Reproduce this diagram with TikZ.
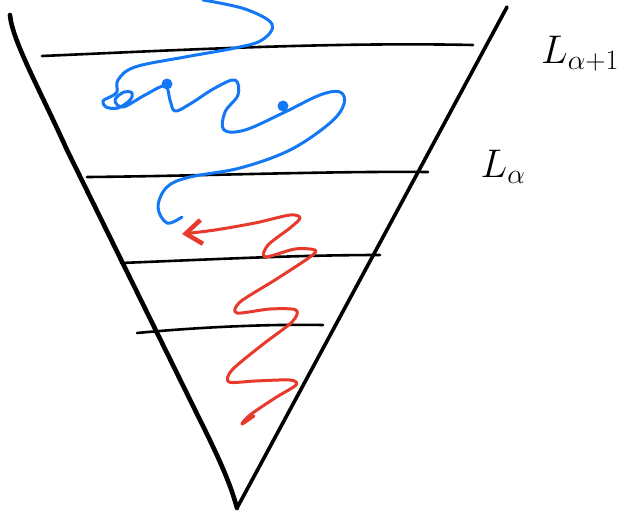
\RequirePackage{fix-cm}
\documentclass[tikz,border=0pt]{standalone}
\usepackage{amsmath}
\usepackage{xcolor}
\usepackage{tikz}
\usetikzlibrary{arrows.meta}
\definecolor{walkblue}{HTML}{1477F4}
\definecolor{walkred}{HTML}{E83A2C}
\tikzset{
  rim/.style    = {line width=#1, line cap=round, line join=round},
  level/.style  = {line width=2.6pt, line cap=round},
  walk/.style   = {draw=#1, line width=3pt, line cap=round, line join=round},
  spot/.style   = {circle, fill=walkblue, inner sep=0pt, minimum size=11pt},
  lab/.style    = {font=\fontsize{40}{44}\selectfont, inner sep=0pt},
}

\begin{document}
\begin{tikzpicture}[x=1pt, y=-1pt]
  \useasboundingbox (0,0) rectangle (632,515);
  % the cone
  \draw[rim=4.6pt] (10,15) .. controls (12,40) and (40,90) .. (67,150)
    -- (200,420) .. controls (225,470) and (232,490) .. (237,508);
  \draw[rim=3.6pt] (237,508) -- (507,7);
  % levels
  \draw[level] (42,56) .. controls (180,50) and (330,42) .. (473,45);
  \draw[level] (87,177) .. controls (200,176) and (330,171) .. (428,172);
  \draw[level] (121,263) .. controls (220,259) and (300,255) .. (380,255);
  \draw[level] (137,333) .. controls (200,327) and (270,324) .. (323,325);
  \node[lab] (lnext) at (580,54) {$L_{\alpha+1}$};
  \node[lab] (lcur) at (503,167) {$L_{\alpha}$};
  % blue walk
  \draw[walk=walkblue] plot[smooth, tension=0.6] coordinates {
    (203,0) (245,9) (272,24) (262,40) (235,48) (185,57) (135,67) (118,80)
    (117,92) (110,97) (103,101) (106,107) (118,108) (130,100) (132,93)
    (124,92) (115,100) (123,107) (145,95) (165,86) (170,100) (175,111)
    (190,104) (215,88) (235,80) (238,95) (225,112) (224,130) (245,130)
    (283,113) (320,95) (340,92) (344,104) (330,123) (290,150) (240,168)
    (190,177) (167,187) (158,207) (167,223) (182,217)};
  \node[spot] (d1) at (167,84) {};
  \node[spot] (d2) at (283,106) {};
  % red walk
  \draw[walk=walkred, -{Straight Barb[length=16pt, width=24pt, line width=4.5pt]}]
    plot[smooth, tension=0.5] coordinates {
    (254,416) (242,424) (250,415) (275,398) (296,385) (290,380) (255,381)
    (229,382) (232,370) (262,345) (292,322) (296,310) (270,309) (237,313)
    (240,302) (275,280) (310,257) (315,250) (295,249) (265,257) (268,245)
    (290,228) (300,218) (290,215) (255,223) (215,230) (182,234)};
\end{tikzpicture}
\end{document}
